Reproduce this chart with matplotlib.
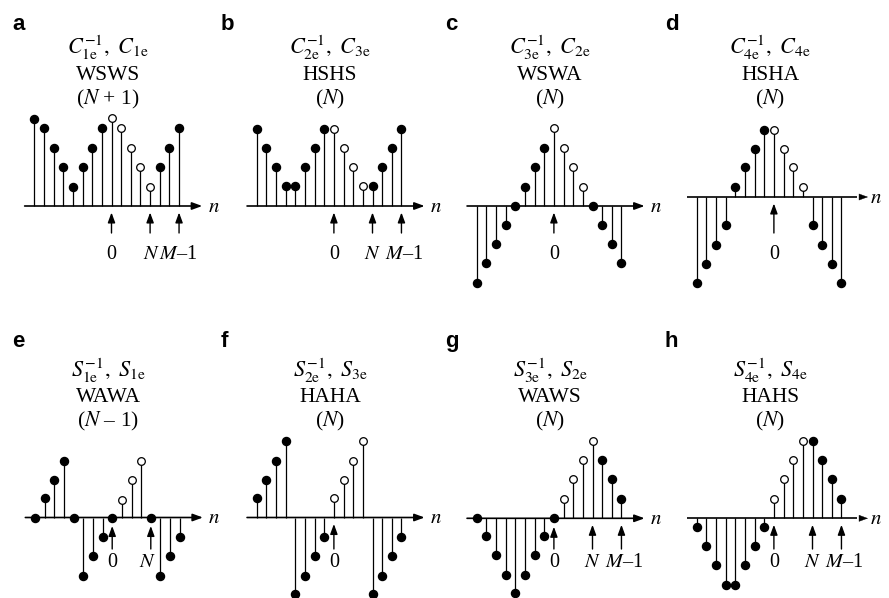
import numpy as np
import matplotlib.pyplot as plt

plt.rcParams['font.family'] = ['Liberation Serif', 'DejaVu Serif']
plt.rcParams['mathtext.fontset'] = 'stix'

##########################
# data: one value per stem, left to right (16 samples per panel)
##########################
vals_a = [8.7, 7.8, 5.8, 3.9, 1.9, 3.9, 5.8, 7.8, 8.8, 7.8, 5.8, 3.9, 1.9, 3.9, 5.8, 7.8]
vals_b = [7.7, 5.8, 3.9, 2.0, 2.0, 3.9, 5.8, 7.7, 7.7, 5.8, 3.9, 2.0, 2.0, 3.9, 5.8, 7.7]
vals_c = [-7.7, -5.7, -3.8, -1.9, 0, 1.9, 3.9, 5.8, 7.8, 5.8, 3.9, 1.9, 0, -1.9, -3.8, -5.7]
vals_d = [-8.6, -6.7, -4.8, -2.8, 1.0, 3.0, 4.8, 6.7, 6.7, 4.8, 3.0, 1.0, -2.8, -4.8, -6.7, -8.6]
vals_e = [0, 2.0, 3.8, 5.7, 0, -5.8, -3.8, -1.9, 0, 1.8, 3.8, 5.7, 0, -5.8, -3.8, -1.9]
vals_f = [2.0, 3.8, 5.7, 7.7, -7.6, -5.8, -3.8, -1.9, 2.0, 3.8, 5.7, 7.7, -7.6, -5.8, -3.8, -1.9]
vals_g = [0, -1.8, -3.7, -5.7, -7.5, -5.7, -3.7, -1.8, 0, 1.9, 3.9, 5.8, 7.7, 5.8, 3.9, 1.9]
vals_h = [-0.9, -2.8, -4.7, -6.7, -6.7, -4.7, -2.8, -0.9, 1.9, 3.9, 5.8, 7.7, 7.7, 5.8, 3.9, 1.9]

# which samples are drawn as open circles
open_a = [8, 9, 10, 11, 12]
open_b = [8, 9, 10, 11]
open_c = [8, 9, 10, 11]
open_d = [8, 9, 10, 11]
open_e = [9, 10, 11]
open_f = [8, 9, 10, 11]
open_g = [9, 10, 11, 12]
open_h = [8, 9, 10, 11]

letters = ['a', 'b', 'c', 'd', 'e', 'f', 'g', 'h']
title_ops = [r'$C_{1\mathrm{e}}^{-1},\ C_{1\mathrm{e}}$', r'$C_{2\mathrm{e}}^{-1},\ C_{3\mathrm{e}}$',
             r'$C_{3\mathrm{e}}^{-1},\ C_{2\mathrm{e}}$', r'$C_{4\mathrm{e}}^{-1},\ C_{4\mathrm{e}}$',
             r'$S_{1\mathrm{e}}^{-1},\ S_{1\mathrm{e}}$', r'$S_{2\mathrm{e}}^{-1},\ S_{3\mathrm{e}}$',
             r'$S_{3\mathrm{e}}^{-1},\ S_{2\mathrm{e}}$', r'$S_{4\mathrm{e}}^{-1},\ S_{4\mathrm{e}}$']
title_sym = ['WSWS', 'HSHS', 'WSWA', 'HSHA', 'WAWA', 'HAHA', 'WAWS', 'HAHS']
title_len = ['($N$ + 1)', '($N$)', '($N$)', '($N$)', '($N$ \u2013 1)', '($N$)', '($N$)', '($N$)']

# marked positions under the axis: (sample index, label)
marks_a = [(8, '0'), (12, '$N$'), (15, '$M$\u20131')]
marks_b = [(8, '0'), (12, '$N$'), (15, '$M$\u20131')]
marks_c = [(8, '0')]
marks_d = [(8, '0')]
marks_e = [(8, '0'), (12, '$N$')]
marks_f = [(8, '0')]
marks_g = [(8, '0'), (12, '$N$'), (15, '$M$\u20131')]
marks_h = [(8, '0'), (12, '$N$'), (15, '$M$\u20131')]

all_vals = [vals_a, vals_b, vals_c, vals_d, vals_e, vals_f, vals_g, vals_h]
all_open = [open_a, open_b, open_c, open_d, open_e, open_f, open_g, open_h]
all_marks = [marks_a, marks_b, marks_c, marks_d, marks_e, marks_f, marks_g, marks_h]

##########################
# layout (pixels)
##########################
W, H = 889, 598
SX, SY = 9.65, 10.0      # px per sample, px per unit
# pixel of sample 0 and of the axis line, per panel
origins = [(34.3, 206), (256.7, 206), (476.7, 206), (696.7, 197),
           (35.0, 517.5), (256.7, 517.5), (476.7, 518.3), (696.7, 518.3)]
gap_head = [False, False, False, True, False, False, False, True]
letter_x = [12, 221, 445, 665, 12, 221, 445, 665]
letter_base = [30, 347]
title_base = [[54, 80, 104], [377, 402, 426]]
tail_px = [233, 549]
label_base = [259, 567]
# small horizontal nudges of labels (in samples)
label_dx = {(0, 12): 0.15, (0, 15): -0.1, (1, 15): 0.3, (4, 12): -0.35,
            (6, 15): 0.3, (7, 15): 0.3}

fig = plt.figure(figsize=(W / 100, H / 100), dpi=100)

arrow_kw = dict(arrowstyle='-|>,head_length=0.6,head_width=0.22', mutation_scale=10,
                lw=1.0, color='k', shrinkA=0, shrinkB=0)

for p in range(8):
    col, row = p % 4, p // 4
    x0, y0 = origins[p]
    L, T = 220 * col, 299 * row
    w = W - L if col == 3 else 220
    h = 299
    ax = fig.add_axes([L / W, 1 - (T + h) / H, w / W, h / H])
    ax.set_xlim((L - x0) / SX, (L + w - x0) / SX)
    ax.set_ylim((y0 - (T + h)) / SY, (y0 - T) / SY)
    ax.axis('off')

    vals = np.array(all_vals[p])
    n = np.arange(len(vals))
    is_open = np.isin(n, all_open[p])

    ax.vlines(n, 0, vals, colors='k', lw=0.9, zorder=2)
    ax.plot(n[~is_open], vals[~is_open], 'o', ms=5.8, mfc='k', mec='k', zorder=4, clip_on=False)
    ax.plot(n[is_open], vals[is_open], 'o', ms=5.5, mfc='w', mec='k', mew=0.9, zorder=4, clip_on=False)

    # horizontal axis with arrow
    if gap_head[p]:
        ax.plot([-1.0, 16.6], [0, 0], color='k', lw=1.2, zorder=1, solid_capstyle='butt')
        ax.annotate('', xy=(17.75, 0), xytext=(17.1, 0), arrowprops=dict(arrow_kw, lw=0.3))
    else:
        ax.annotate('', xy=(17.4, 0), xytext=(-1.0, 0), arrowprops=dict(arrow_kw, lw=1.2), zorder=1)
    ax.text(17.95, -0.12, '$n$', ha='left', va='center', fontsize=15)

    # arrows and labels under the axis
    for idx, lab in all_marks[p]:
        gap = 8.5 if vals[idx] == 0 else 6.5
        tip = -gap / SY
        tail = (y0 - tail_px[row]) / SY
        ax.annotate('', xy=(idx, tip), xytext=(idx, tail), arrowprops=arrow_kw)
        dx = label_dx.get((p, idx), 0.0)
        ax.text(idx + dx, (y0 - label_base[row]) / SY, lab, ha='center', va='baseline', fontsize=14.5)

    # titles
    tx = (x0 + 7.6 * SX) / W
    for k, s in enumerate([title_ops[p], title_sym[p], title_len[p]]):
        fig.text(tx, 1 - title_base[row][k] / H, s, ha='center', va='baseline',
                 fontsize=16 if k == 0 else 15.5)

    fig.text(letter_x[p] / W, 1 - letter_base[row] / H, letters[p], ha='left', va='baseline',
             fontsize=16, fontweight='bold', family=['Liberation Sans', 'DejaVu Sans'])

fig.savefig('out.png', dpi=100)
